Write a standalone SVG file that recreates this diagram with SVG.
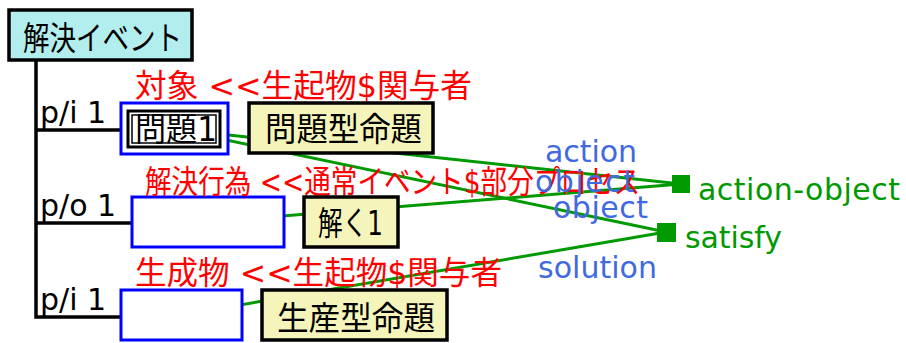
<svg xmlns="http://www.w3.org/2000/svg" width="906" height="343" viewBox="0 0 906 343">
<style>
text{font-family:"DejaVu Sans","Noto Sans CJK JP",sans-serif;}
.tree{stroke:#000;stroke-width:3.5;fill:none;}
.conn{stroke:#009900;stroke-width:3;fill:none;}
.top{fill:#b2eeee;stroke:#000;stroke-width:3.5;}
.slot{fill:#fff;stroke:#0000ff;stroke-width:3;}
.prop{fill:#f5f5bb;stroke:#000;stroke-width:3.5;}
.inst{fill:#fff;stroke:#000;stroke-width:3;}
.inst2{fill:none;stroke:#000;stroke-width:1.5;}
.jp{font-size:33px;fill:#000;}
.pl{font-size:30px;fill:#000;}
.red{font-size:32px;fill:#ff0000;}
.role{font-size:30px;fill:#4169e1;}
.rel{font-size:30px;fill:#009900;}
.sq{fill:#009900;}
</style>
<g id="connectors">
<line class="conn" x1="174" y1="129" x2="681" y2="184"/>
<line class="conn" x1="174" y1="129" x2="666" y2="232"/>
<line class="conn" x1="208" y1="222" x2="681" y2="184"/>
<line class="conn" x1="181" y1="315" x2="666" y2="232"/>
</g>
<g id="tree">
<polyline class="tree" points="36,60 36,317 121,317"/>
<line class="tree" x1="36" y1="130" x2="121" y2="130"/>
<line class="tree" x1="36" y1="223" x2="132" y2="223"/>
<text class="pl" x="40" y="123">p/i 1</text>
<text class="pl" x="40" y="216">p/o 1</text>
<text class="pl" x="40" y="310">p/i 1</text>
</g>
<g id="node-kaiketsu-event">
<rect class="top" x="9" y="10" width="183" height="50"/>
<text class="jp" x="23" y="50" textLength="159" lengthAdjust="spacingAndGlyphs">解決イベント</text>
</g>
<g id="node-taisho">
<rect class="slot" x="121" y="103" width="107" height="51"/>
<rect class="inst" x="128" y="111" width="92" height="36"/>
<rect class="inst2" x="132" y="115" width="84" height="28"/>
<text class="jp" x="135" y="141" textLength="82" lengthAdjust="spacingAndGlyphs">問題1</text>
<text class="red" x="135" y="97" textLength="337" lengthAdjust="spacingAndGlyphs">対象 &lt;&lt;生起物$関与者</text>
</g>
<g id="node-mondaigata">
<rect class="prop" x="249" y="103" width="184" height="50"/>
<text class="jp" x="265" y="141" textLength="157" lengthAdjust="spacingAndGlyphs">問題型命題</text>
</g>
<g id="node-kaiketsu-koui">
<rect class="slot" x="132" y="197" width="152" height="50"/>
<text class="red" x="145" y="193" textLength="495" lengthAdjust="spacingAndGlyphs">解決行為 &lt;&lt;通常イベント$部分プロセス</text>
</g>
<g id="node-toku">
<rect class="prop" x="304" y="197" width="94" height="50"/>
<text class="jp" x="318" y="235" textLength="65" lengthAdjust="spacingAndGlyphs">解く1</text>
</g>
<g id="node-seiseibutsu">
<rect class="slot" x="121" y="290" width="121" height="50"/>
<text class="red" x="135" y="284" textLength="367" lengthAdjust="spacingAndGlyphs">生成物 &lt;&lt;生起物$関与者</text>
</g>
<g id="node-seisangata">
<rect class="prop" x="262" y="290" width="185" height="50"/>
<text class="jp" x="277" y="330" textLength="158" lengthAdjust="spacingAndGlyphs">生産型命題</text>
</g>
<g id="connector-labels">
<text class="role" x="545" y="162" textLength="92">action</text>
<text class="role" x="535" y="192" textLength="100">object</text>
<text class="role" x="553" y="218" textLength="95">object</text>
<text class="role" x="538" y="278" textLength="119">solution</text>
</g>
<g id="node-action-object">
<rect class="sq" x="672" y="175" width="18" height="18"/>
<text class="rel" x="698" y="200" textLength="202">action-object</text>
</g>
<g id="node-satisfy">
<rect class="sq" x="657" y="223" width="19" height="19"/>
<text class="rel" x="685" y="248" textLength="97">satisfy</text>
</g>
</svg>
